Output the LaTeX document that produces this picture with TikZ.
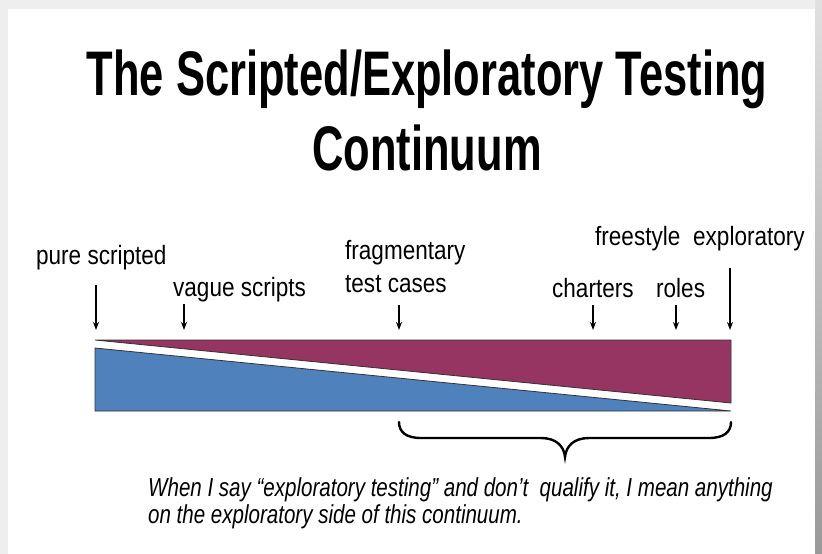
\documentclass[tikz,border=0pt]{standalone}
\usepackage{fontspec}
\setmainfont{Liberation Sans}
\newfontfamily\titlefont[FakeStretch=0.69]{Liberation Sans}
\newfontfamily\labelfont[FakeStretch=0.85]{Liberation Sans}
\newfontfamily\notefont[FakeStretch=0.79]{Liberation Sans}
\usetikzlibrary{arrows.meta}
\definecolor{wedgepurple}{RGB}{150,52,98}
\definecolor{wedgeblue}{RGB}{79,129,189}
\definecolor{framegrey}{RGB}{238,238,238}
\tikzset{
  titletext/.style={anchor=base, inner sep=0pt, font=\titlefont\bfseries\fontsize{63}{70}\selectfont},
  lbl/.style={anchor=base west, inner sep=0pt, font=\labelfont\fontsize{26.5}{30}\selectfont},
  note/.style={anchor=base west, inner sep=0pt, font=\notefont\itshape\fontsize{26}{30}\selectfont},
  pointer/.style={line width=1.3pt, -{Stealth[length=8pt,width=6pt]}},
  wedge/.style={draw=black!80, line width=0.8pt, line join=miter},
  bracket/.style={line width=2.4pt, line cap=round},
}
\begin{document}
\begin{tikzpicture}[x=1pt, y=-1pt]
  % slide frame
  \useasboundingbox (0,0) rectangle (822,554);
  \fill[framegrey] (0,0) rectangle (822,554);
  \shade[top color=black!12, bottom color=black!40] (815,0) rectangle (822,554);
  \fill[white] (8,9) rectangle (815,554);

  % title
  \node[titletext] (t1) at (427,95) {The Scripted/Exploratory Testing};
  \node[titletext] (t2) at (427,170) {Continuum};

  % labels along the continuum
  \node[lbl] (pure) at (36,264) {pure scripted};
  \node[lbl] (vague) at (173,296) {vague scripts};
  \node[lbl] (frag) at (345,259) {fragmentary};
  \node[lbl] (cases) at (345,292) {test cases};
  \node[lbl] (free) at (595,245) {freestyle};
  \node[lbl] (expl) at (693,245) {exploratory};
  \node[lbl] (chart) at (552,297) {charters};
  \node[lbl] (roles) at (656,297) {roles};

  % arrow anchors
  \coordinate (pa) at (96,285);   \coordinate (pb) at (96,330);
  \coordinate (va) at (184,304);  \coordinate (vb) at (184,330);
  \coordinate (fa) at (399,305);  \coordinate (fb) at (399,330);
  \coordinate (ca) at (593,305);  \coordinate (cb) at (593,330);
  \coordinate (ra) at (676,305);  \coordinate (rb) at (676,330);
  \coordinate (ea) at (730,268);  \coordinate (eb) at (730,330);
  \draw[pointer] (pa) -- (pb);
  \draw[pointer] (va) -- (vb);
  \draw[pointer] (fa) -- (fb);
  \draw[pointer] (ca) -- (cb);
  \draw[pointer] (ra) -- (rb);
  \draw[pointer] (ea) -- (eb);

  % the two wedges
  \filldraw[wedge, fill=wedgepurple] (95,340) -- (731,340) -- (731,403) -- cycle;
  \filldraw[wedge, fill=wedgeblue] (95,348) -- (731,411) -- (95,411) -- cycle;

  % brace under the exploratory side
  \coordinate (bl) at (399,422);
  \coordinate (bm) at (565,457);
  \coordinate (br) at (731,422);
  \draw[bracket] (bl) .. controls (399,432) and (406,438) .. (421,438)
    -- (541,438) .. controls (556,438) and (564,446) .. (bm)
    .. controls (566,446) and (574,438) .. (589,438)
    -- (709,438) .. controls (724,438) and (731,432) .. (br);

  % note
  \node[note] (n1) at (148,496) {When I say “exploratory testing” and don’t\ \ qualify it, I mean anything};
  \node[note] (n2) at (148,523) {on the exploratory side of this continuum.};
\end{tikzpicture}
\end{document}
